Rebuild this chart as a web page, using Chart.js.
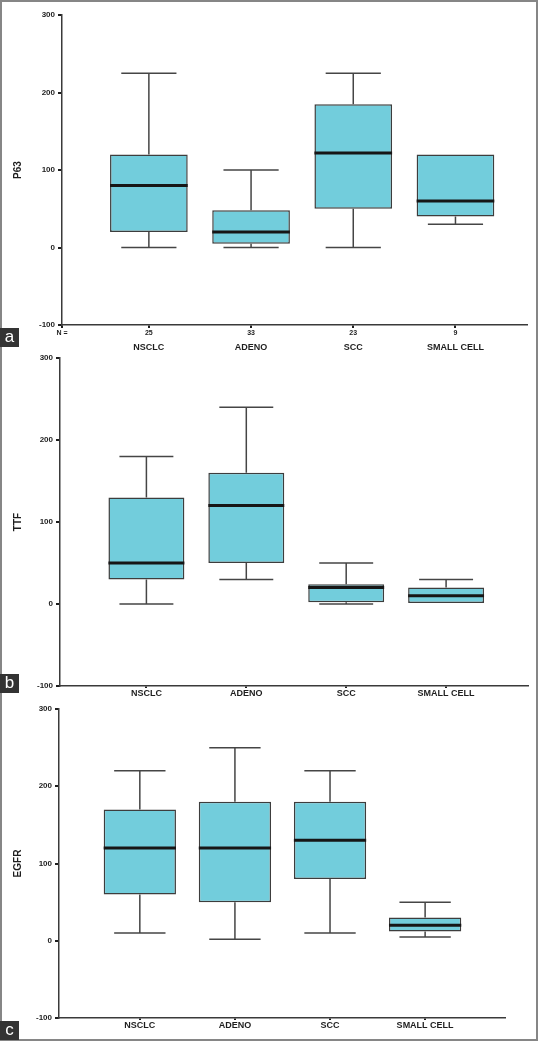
<!DOCTYPE html>
<html>
<head>
<meta charset="utf-8">
<script src="https://cdn.jsdelivr.net/npm/chart.js@4.4.1/dist/chart.umd.min.js"></script>
<style>
  html, body { margin: 0; padding: 0; background: #fff; }
  #frame { position: relative; width: 538px; height: 1041px; overflow: hidden; background: #fff; }
  #frame canvas { position: absolute; left: 0; }
  .border { position: absolute; left: 0; top: 0; width: 534px; height: 1037px; border: 2px solid #868686; pointer-events: none; }
  .tag { position: absolute; left: 0; width: 19px; height: 19px; background: #333; color: #fff;
         font: 17px "Liberation Sans", Arial, sans-serif; line-height: 17px; text-align: center; }
</style>
</head>
<body>
<div id="frame">
  <canvas id="chartA" width="538" height="356" style="top:0px"></canvas>
  <canvas id="chartB" width="538" height="360" style="top:345px"></canvas>
  <canvas id="chartC" width="538" height="346" style="top:695px"></canvas>
  <div class="border"></div>
  <div class="tag" style="top:328px">a</div>
  <div class="tag" style="top:674px">b</div>
  <div class="tag" style="top:1021px">c</div>
</div>
<script>
// categories and the box-plot values
const categories = ['NSCLC', 'ADENO', 'SCC', 'SMALL CELL'];
const p63Counts = ['25', '33', '23', '9'];
const yTicks = [-100, 0, 100, 200, 300];

// panel a - P63
const p63Min    = [0, 0, 0, 30];
const p63Q1     = [20, 5, 50, 40];
const p63Median = [80, 20, 122, 60];
const p63Q3     = [120, 48, 185, 120];
const p63Max    = [225, 100, 225, 120];

// panel b - TTF
const ttfMin    = [0, 30, 0, 0];
const ttfQ1     = [30, 50, 2, 0];
const ttfMedian = [50, 120, 20, 10];
const ttfQ3     = [130, 160, 24, 20];
const ttfMax    = [180, 240, 50, 30];

// panel c - EGFR
const egfrMin    = [10, 2, 10, 5];
const egfrQ1     = [60, 50, 80, 12];
const egfrMedian = [120, 120, 130, 20];
const egfrQ3     = [170, 180, 180, 30];
const egfrMax    = [220, 250, 220, 50];

const BOX_FILL = '#72cddc';
const INK = '#1e1e1e';
const FONT = '"Liberation Sans", Arial, sans-serif';
const BOX_HALF = 0.38;   // half box width in category units
const CAP_HALF = 0.27;   // half whisker cap width

// whisker segments, broken with null points
function whiskerPoints(mins, q1s, q3s, maxs) {
    const pts = [];
    mins.forEach((lo, i) => {
        const hi = maxs[i];
        if (hi > q3s[i]) {
            pts.push({x: i, y: q3s[i]}, {x: i, y: hi}, {x: i, y: null},
                     {x: i - CAP_HALF, y: hi}, {x: i + CAP_HALF, y: hi}, {x: i, y: null});
        }
        if (lo < q1s[i]) {
            pts.push({x: i, y: q1s[i]}, {x: i, y: lo}, {x: i, y: null},
                     {x: i - CAP_HALF, y: lo}, {x: i + CAP_HALF, y: lo}, {x: i, y: null});
        }
    });
    return pts;
}

function medianPoints(medians) {
    const pts = [];
    medians.forEach((m, i) => {
        pts.push({x: i - BOX_HALF, y: m}, {x: i + BOX_HALF, y: m}, {x: i, y: null});
    });
    return pts;
}

function makeChart(id, p) {
    const catAxis = {
        type: 'linear',
        min: p.xMin,
        max: p.xMax,
        bounds: 'data',
        offset: false,
        weight: 1,
        afterBuildTicks: s => { s.ticks = categories.map((c, i) => ({value: i})); },
        afterFit: s => { s.height = p.nameAxisHeight; },
        ticks: {
            autoSkip: false, maxRotation: 0, minRotation: 0,
            color: INK, padding: p.namePadding,
            font: {family: FONT, size: 9, weight: 'bold'},
            callback: (v) => categories[v]
        },
        grid: {offset: false, drawOnChartArea: false, tickLength: 2, color: INK, lineWidth: 2},
        border: {color: '#3a3a3a', width: 1.5}
    };

    const scales = {
        y: {
            min: -100, max: 300,
            afterFit: s => { s.width = p.yWidth; },
            afterBuildTicks: s => { s.ticks = yTicks.map(v => ({value: v})); },
            ticks: {color: INK, padding: 3, font: {family: FONT, size: 8, weight: 'bold'}},
            grid: {drawOnChartArea: false, tickLength: 4, color: INK, lineWidth: 2},
            border: {color: '#3a3a3a', width: 1.5},
            title: {display: true, text: p.title, color: INK, padding: {top: 12, bottom: 0},
                    font: {family: FONT, size: 10, weight: 'bold'}}
        },
        x: catAxis
    };
    let boxAxis = 'x';

    if (p.counts) {
        // N = row sits right under the axis, names go one row lower
        scales.x = {
            type: 'linear', min: p.xMin, max: p.xMax, bounds: 'data', offset: false, weight: 1,
            afterBuildTicks: s => { s.ticks = [{value: p.xMin}].concat(categories.map((c, i) => ({value: i}))); },
            afterFit: s => { s.height = 14; },
            ticks: {
                autoSkip: false, maxRotation: 0, minRotation: 0, color: INK, padding: 1,
                font: {family: FONT, size: 7, weight: 'bold'},
                callback: (v, idx) => idx === 0 ? 'N =' : p.counts[idx - 1]
            },
            grid: {offset: false, drawOnChartArea: false, tickLength: 3, color: INK, lineWidth: 2},
            border: {color: '#3a3a3a', width: 1.5}
        };
        scales.xNames = Object.assign({}, catAxis, {
            position: 'bottom', weight: 2,
            grid: {display: false, drawTicks: false, tickLength: 0, offset: false},
            border: {display: false}
        });
        boxAxis = 'xNames';
    }

    return new Chart(document.getElementById(id), {
        type: 'bar',
        data: {
            datasets: [
                {
                    type: 'line',
                    xAxisID: boxAxis,
                    data: medianPoints(p.median),
                    borderColor: '#161616',
                    borderWidth: 3,
                    pointRadius: 0,
                    spanGaps: false,
                    order: 0
                },
                {
                    type: 'bar',
                    xAxisID: boxAxis,
                    data: p.q1.map((v, i) => ({x: i, y: [v, p.q3[i]]})),
                    backgroundColor: BOX_FILL,
                    borderColor: '#3d3d3d',
                    borderWidth: 1.5,
                    borderSkipped: false,
                    categoryPercentage: 0.76,
                    barPercentage: 1,
                    order: 1
                },
                {
                    type: 'line',
                    xAxisID: boxAxis,
                    data: whiskerPoints(p.min, p.q1, p.q3, p.max),
                    borderColor: '#454545',
                    borderWidth: 1.5,
                    pointRadius: 0,
                    spanGaps: false,
                    order: 2
                }
            ]
        },
        options: {
            responsive: false,
            animation: false,
            events: [],
            layout: {padding: {top: p.padTop, right: p.padRight, bottom: p.padBottom, left: 0}},
            plugins: {legend: {display: false}, tooltip: {enabled: false}},
            scales: scales
        }
    });
}

makeChart('chartA', {
    title: 'P63', counts: p63Counts,
    min: p63Min, q1: p63Q1, median: p63Median, q3: p63Q3, max: p63Max,
    xMin: -0.85, xMax: 3.7, yWidth: 62,
    padTop: 15, padRight: 11, padBottom: 0,
    nameAxisHeight: 17, namePadding: 3
});

makeChart('chartB', {
    title: 'TTF',
    min: ttfMin, q1: ttfQ1, median: ttfMedian, q3: ttfQ3, max: ttfMax,
    xMin: -0.865, xMax: 3.82, yWidth: 60,
    padTop: 13, padRight: 10, padBottom: 0,
    nameAxisHeight: 19, namePadding: 0
});

makeChart('chartC', {
    title: 'EGFR',
    min: egfrMin, q1: egfrQ1, median: egfrMedian, q3: egfrQ3, max: egfrMax,
    xMin: -0.85, xMax: 3.84, yWidth: 59,
    padTop: 14, padRight: 33, padBottom: 4,
    nameAxisHeight: 19, namePadding: 0
});
</script>
</body>
</html>
